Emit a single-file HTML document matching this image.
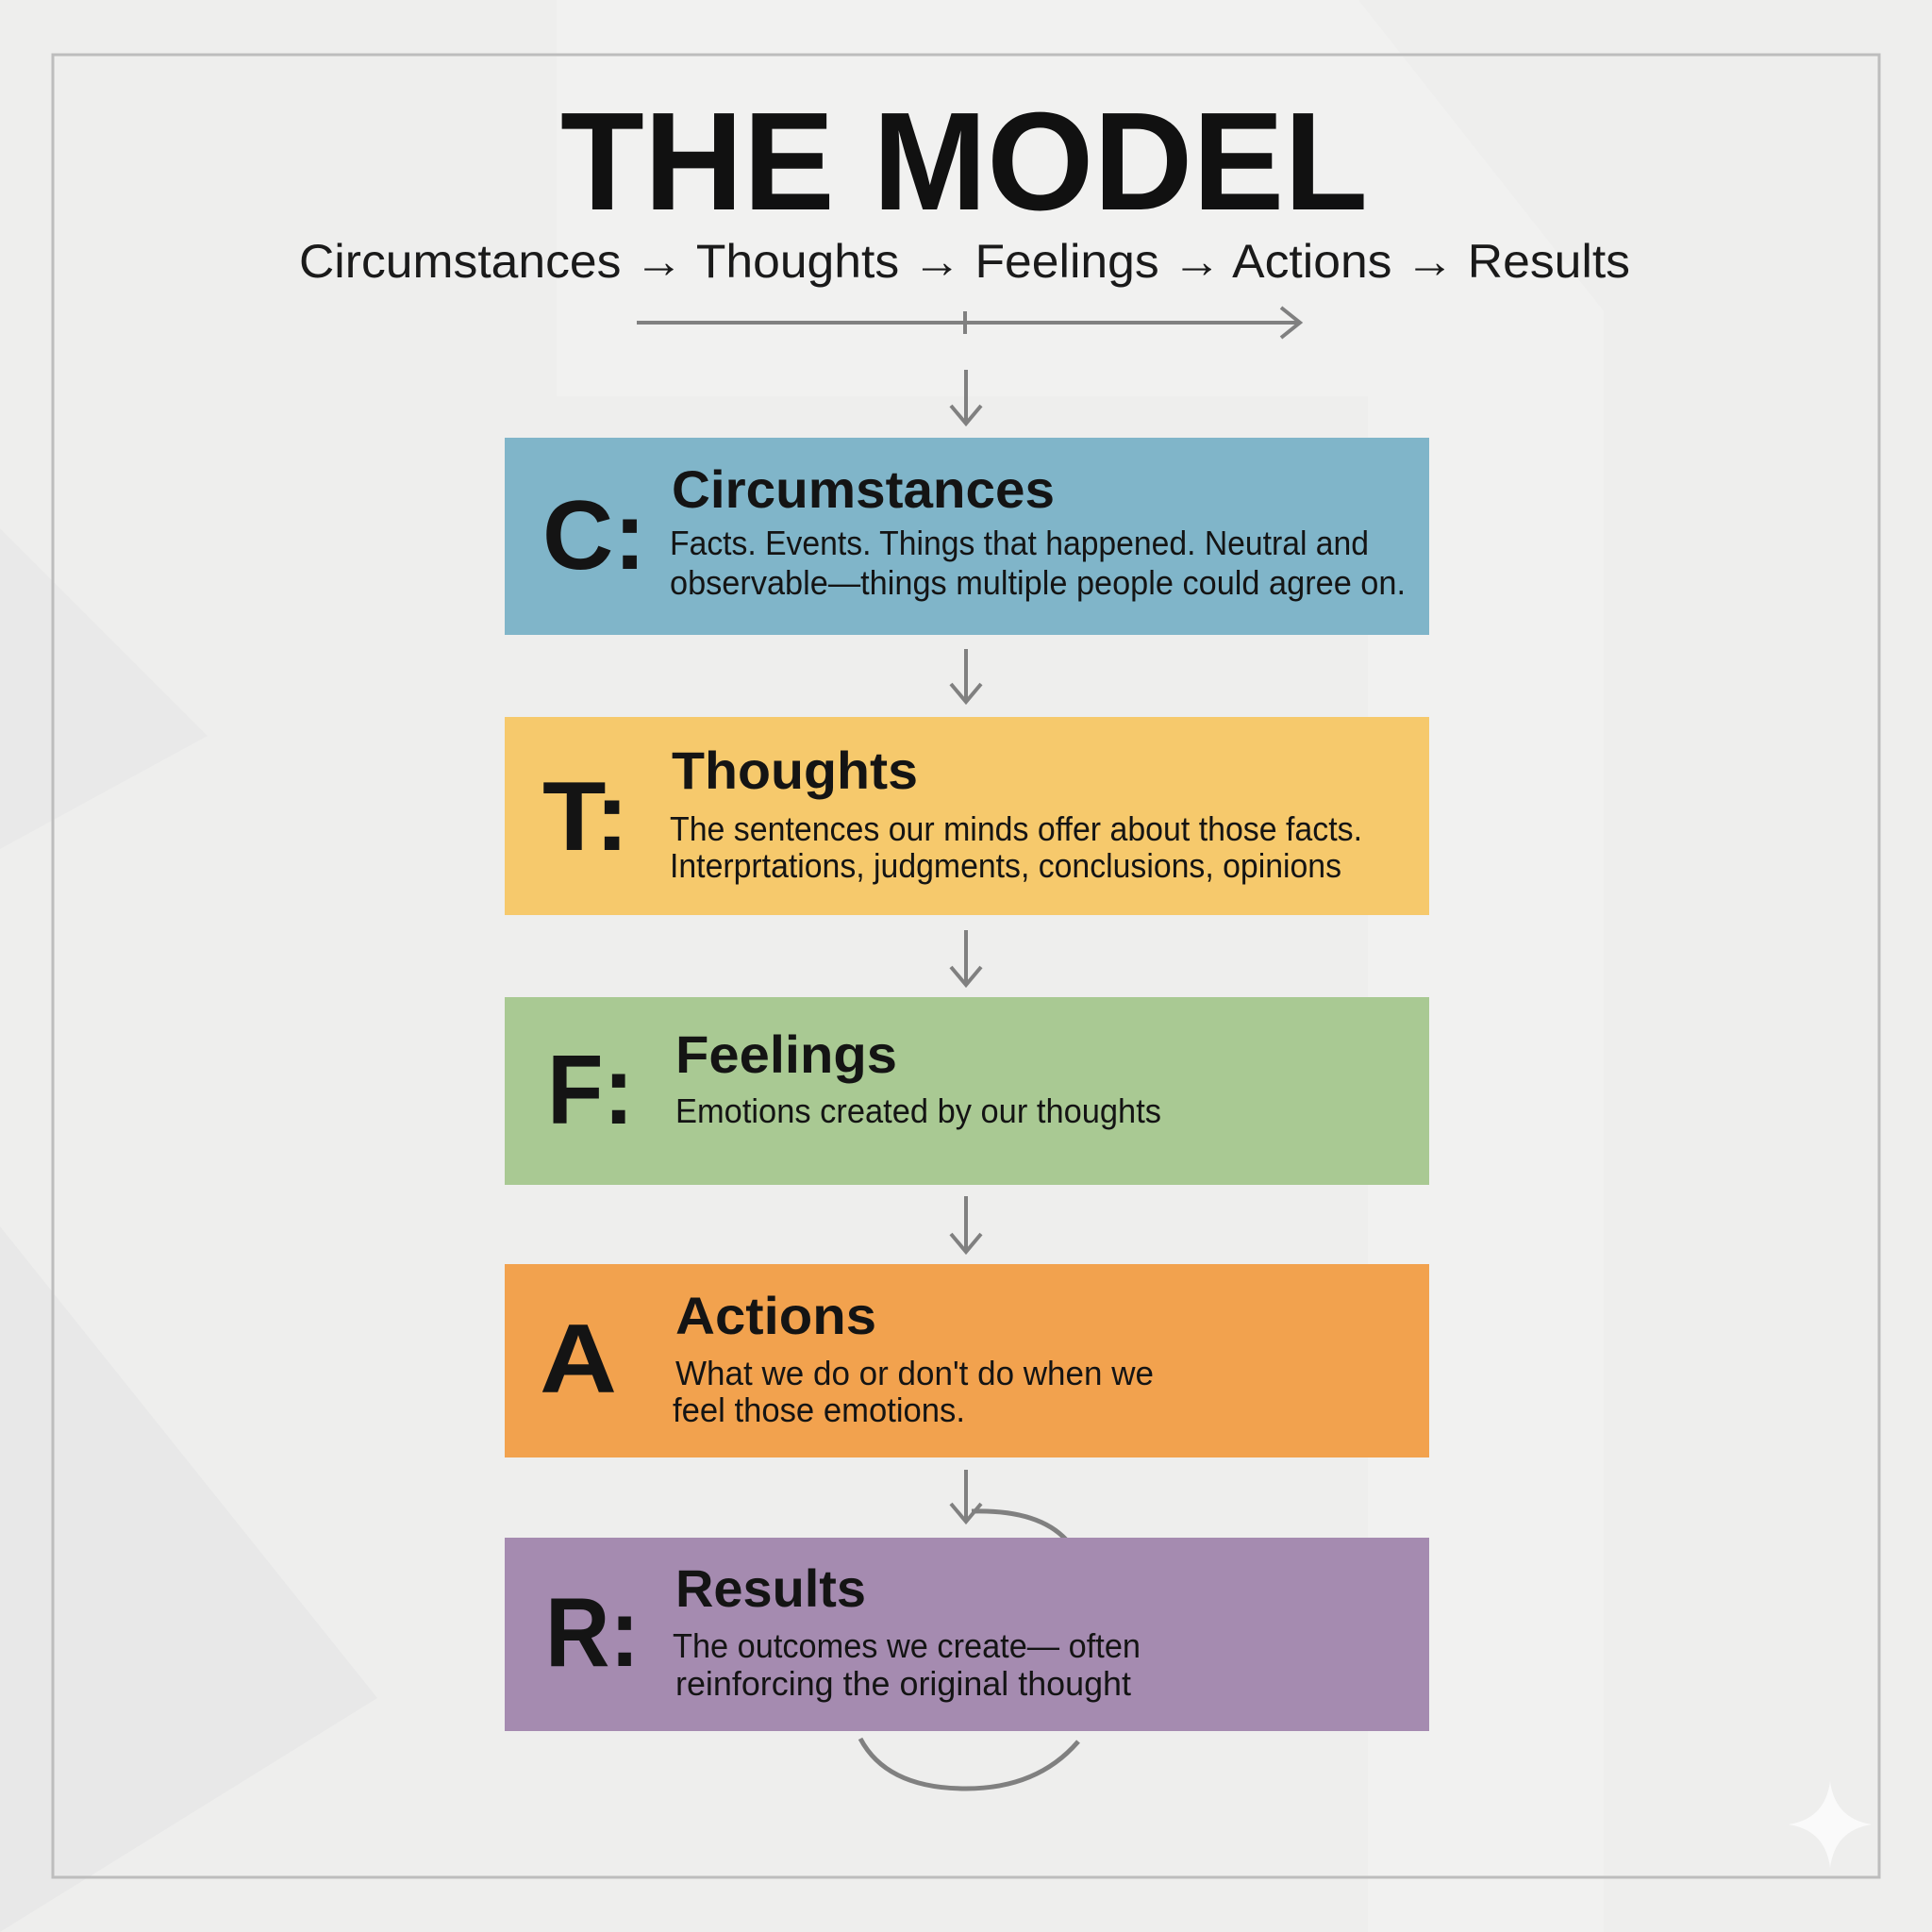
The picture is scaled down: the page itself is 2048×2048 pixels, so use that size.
<!DOCTYPE html>
<html><head><meta charset="utf-8"><style>html,body{margin:0;padding:0;background:#ececec}svg{display:block}</style></head>
<body>
<svg width="2048" height="2048" viewBox="0 0 2048 2048" xmlns="http://www.w3.org/2000/svg" font-family="Liberation Sans, sans-serif">
<rect width="2048" height="2048" fill="#eeeeed"/>
<polygon points="590,0 1440,0 1700,330 1700,2048 1450,2048 1450,420 590,420" fill="#f1f1f0"/>
<polygon points="0,560 220,780 0,900" fill="#e9e9e9"/>
<polygon points="0,1300 400,1800 0,2048" fill="#e8e8e8"/>
<rect x="56" y="58" width="1936" height="1932" fill="none" stroke="#bdbdbd" stroke-width="3"/>
<text x="1022" y="222" font-size="148" font-weight="bold" text-anchor="middle" textLength="856" lengthAdjust="spacingAndGlyphs" fill="#111">THE MODEL</text>
<text x="317" y="294" font-size="50" textLength="1411" lengthAdjust="spacingAndGlyphs" fill="#1a1a1a">Circumstances → Thoughts → Feelings → Actions → Results</text>
<g stroke="#808080" stroke-width="4" fill="none">
<line x1="675" y1="342" x2="1378" y2="342"/>
<polyline points="1358,326 1378,342 1358,358"/>
<line x1="1023" y1="330" x2="1023" y2="354"/>
<line x1="1024" y1="392" x2="1024" y2="448"/><polyline points="1008,430 1024,449 1040,430"/>
<line x1="1024" y1="688" x2="1024" y2="743"/><polyline points="1008,725 1024,744 1040,725"/>
<line x1="1024" y1="986" x2="1024" y2="1043"/><polyline points="1008,1025 1024,1044 1040,1025"/>
<line x1="1024" y1="1268" x2="1024" y2="1326"/><polyline points="1008,1308 1024,1327 1040,1308"/>
<line x1="1024" y1="1558" x2="1024" y2="1612"/><polyline points="1008,1594 1024,1613 1040,1594"/>
<path d="M1030,1602 Q1100,1600 1130,1632" stroke-width="5"/>
<path d="M912,1843 Q940,1896 1024,1896 Q1100,1896 1143,1846" stroke-width="5"/>
</g>
<rect x="535" y="464" width="980" height="209" fill="#80b5c9"/>
<rect x="535" y="760" width="980" height="210" fill="#f6c96c"/>
<rect x="535" y="1057" width="980" height="199" fill="#a9c993"/>
<rect x="535" y="1340" width="980" height="205" fill="#f2a24e"/>
<rect x="535" y="1630" width="980" height="205" fill="#a58bb0"/>
<g fill="#141414">
<g font-size="104" font-weight="bold">
<text x="575" y="603" textLength="110" lengthAdjust="spacingAndGlyphs">C:</text>
<text x="575" y="901" textLength="92" lengthAdjust="spacingAndGlyphs">T:</text>
<text x="580" y="1191" textLength="92" lengthAdjust="spacingAndGlyphs">F:</text>
<text x="572" y="1476" textLength="82" lengthAdjust="spacingAndGlyphs">A</text>
<text x="578" y="1766" textLength="100" lengthAdjust="spacingAndGlyphs">R:</text>
</g>
<g font-size="56" font-weight="bold">
<text x="712" y="538" textLength="406" lengthAdjust="spacingAndGlyphs">Circumstances</text>
<text x="712" y="836" textLength="261" lengthAdjust="spacingAndGlyphs">Thoughts</text>
<text x="716" y="1137" textLength="235" lengthAdjust="spacingAndGlyphs">Feelings</text>
<text x="716" y="1414" textLength="213" lengthAdjust="spacingAndGlyphs">Actions</text>
<text x="716" y="1703" textLength="202" lengthAdjust="spacingAndGlyphs">Results</text>
</g>
<g font-size="36">
<text x="710" y="588" textLength="741" lengthAdjust="spacingAndGlyphs">Facts. Events. Things that happened. Neutral and</text>
<text x="710" y="630" textLength="780" lengthAdjust="spacingAndGlyphs">observable—things multiple people could agree on.</text>
<text x="710" y="891" textLength="734" lengthAdjust="spacingAndGlyphs">The sentences our minds offer about those facts.</text>
<text x="710" y="930" textLength="712" lengthAdjust="spacingAndGlyphs">Interprtations, judgments, conclusions, opinions</text>
<text x="716" y="1190" textLength="515" lengthAdjust="spacingAndGlyphs">Emotions created by our thoughts</text>
<text x="716" y="1468" textLength="507" lengthAdjust="spacingAndGlyphs">What we do or don't do when we</text>
<text x="713" y="1507" textLength="310" lengthAdjust="spacingAndGlyphs">feel those emotions.</text>
<text x="713" y="1757" textLength="496" lengthAdjust="spacingAndGlyphs">The outcomes we create— often</text>
<text x="716" y="1797" textLength="483" lengthAdjust="spacingAndGlyphs">reinforcing the original thought</text>
</g>
</g>
<path d="M1940,1888 Q1945,1928 1984,1934 Q1945,1940 1940,1980 Q1935,1940 1896,1934 Q1935,1928 1940,1888Z" fill="#fafafa"/>
</svg>
</body></html>
